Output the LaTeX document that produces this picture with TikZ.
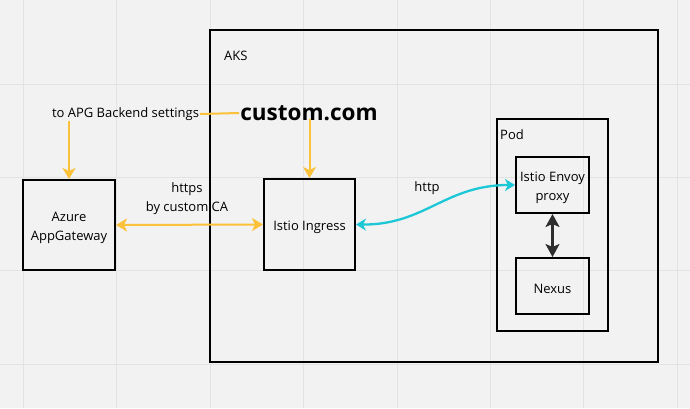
\documentclass[tikz,border=0pt]{standalone}
\usepackage{fontspec}
\setmainfont{Open Sans}
\usetikzlibrary{arrows.meta}
\definecolor{bg}{HTML}{F2F2F2}
\definecolor{gridc}{HTML}{E3E3E3}
\definecolor{orng}{HTML}{FCC13A}
\definecolor{cyn}{HTML}{1CC8D6}
\definecolor{dark}{HTML}{2E2E2E}
\tikzset{
  box/.style={draw=black, line width=2pt, minimum width=#1, inner sep=0pt},
  lbl/.style={inner sep=1pt, align=center, font=\fontsize{13}{19}\selectfont},
  boxtext/.style={label={[lbl,yshift=-3pt]center:{#1}}},
  frame/.style={draw=black, line width=2.2pt},
  oarrow/.style={draw=orng, line width=2pt, -{Stealth[length=11pt,width=13pt,inset=3pt]}},
  oline/.style={draw=orng, line width=2pt},
}
\begin{document}
\begin{tikzpicture}[x=1pt,y=-1pt]
\useasboundingbox (0,0) rectangle (690,408);
\fill[bg] (0,0) rectangle (690,408);
\foreach \i in {0,...,7} \draw[gridc, line width=1pt] (23.5+93.4*\i,0) -- (23.5+93.4*\i,408);
\foreach \i in {0,...,3} \draw[gridc, line width=1pt] (0,84+93.4*\i) -- (690,84+93.4*\i);

% containers
\draw[frame] (210,30) rectangle (658,362);
\node[lbl, anchor=west] (aks) at (223,56) {AKS};
\draw[frame, line width=2pt] (497,119) rectangle (608,331);
\node[lbl, anchor=west] (pod) at (499,135) {Pod};

% boxes
\node[box=92pt, minimum height=90pt, boxtext={Azure\\AppGateway}] (azure) at (69,225) {};
\node[box=91pt, minimum height=91pt, boxtext={Istio Ingress}] (ingress) at (309.5,224.5) {};
\node[box=73pt, minimum height=56pt, boxtext={Istio Envoy\\proxy}] (envoy) at (552.5,185) {};
\node[box=73pt, minimum height=56pt, boxtext={Nexus}] (nexus) at (552.5,286) {};

% texts
\node[lbl] (apg) at (125.5,114) {to APG Backend settings};
\node[inner sep=1pt, font=\fontsize{22.5}{26}\selectfont\bfseries] (custom) at (309,113) {custom.com};
\node[lbl] (https) at (187,199) {https\\by custom CA};
\node[lbl] (http) at (427,188) {http};

% connectors
\draw[oline] (apg.east) -- (custom.west);
\coordinate (apgdown) at (azure.north |- 0,121);
\draw[oarrow] (apgdown) -- (azure.north);
\coordinate (cusdown) at (custom.south -| ingress.north);
\draw[oarrow] ([yshift=3pt]cusdown) -- (ingress.north);
\draw[oline, {Stealth[length=11pt,width=13pt,inset=3pt]}-{Stealth[length=11pt,width=13pt,inset=3pt]}] (azure.east) -- (ingress.west);
\draw[draw=cyn, line width=2.3pt, {Stealth[length=10pt,width=12pt,inset=3pt]}-{Stealth[length=10pt,width=12pt,inset=3pt]}] (ingress.east) .. controls (425,225) and (445,185) .. (envoy.west);
\draw[draw=dark, line width=2.2pt, {Stealth[length=13pt,width=14pt,inset=3pt]}-{Stealth[length=13pt,width=14pt,inset=3pt]}] (envoy.south) -- (nexus.north);
\end{tikzpicture}
\end{document}
